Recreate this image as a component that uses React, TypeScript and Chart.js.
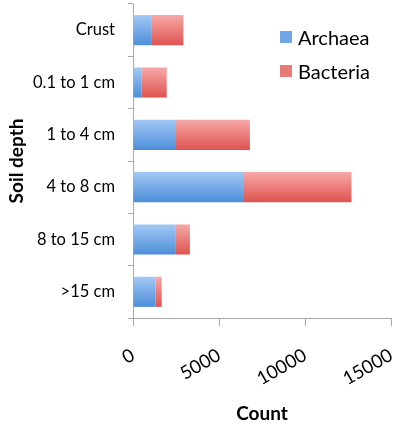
import { useEffect, useRef } from "react";
import { Chart, registerables } from "chart.js";

Chart.register(...registerables);

const depths = ["Crust", "0.1 to 1 cm", "1 to 4 cm", "4 to 8 cm", "8 to 15 cm", ">15 cm"];
const archaea = [1100, 480, 2500, 6400, 2450, 1300];
const bacteria = [1830, 1480, 4300, 6300, 860, 370];
const xTicks = [0, 5000, 10000, 15000];

const FONT = "Lato, 'Open Sans', sans-serif";
const BAR_PCT = 0.575;

// vertical gradient per bar, like the glossy office style
function barFill(top: string, bottom: string, flat: string) {
  return (ctx: any) => {
    const chart = ctx.chart;
    const y = chart.scales?.y;
    if (!y || ctx.dataIndex === undefined || !chart.chartArea) return flat;
    const c = y.getPixelForValue(ctx.dataIndex);
    const half = (y.height / depths.length) * BAR_PCT / 2;
    const g = chart.ctx.createLinearGradient(0, c - half, 0, c + half);
    g.addColorStop(0, top);
    g.addColorStop(1, bottom);
    return g;
  };
}

export default function App() {
  const canvasRef = useRef<HTMLCanvasElement>(null);

  useEffect(() => {
    if (!canvasRef.current) return;
    const chart = new Chart(canvasRef.current, {
      type: "bar",
      data: {
        labels: depths,
        datasets: [
          {
            label: "Archaea",
            data: archaea,
            backgroundColor: barFill("#a2c8f5", "#4d8ed9", "#6fa6e6"),
            borderWidth: 0,
          },
          {
            label: "Bacteria",
            data: bacteria,
            backgroundColor: barFill("#f6a9a7", "#de534f", "#ea7a78"),
            borderWidth: 0,
          },
        ],
      },
      options: {
        indexAxis: "y",
        animation: false,
        responsive: false,
        layout: { padding: { top: 4, right: 9, left: 0, bottom: 0 } },
        datasets: {
          bar: { categoryPercentage: 1, barPercentage: BAR_PCT },
        },
        plugins: {
          legend: { display: false },
          tooltip: { enabled: false },
        },
        scales: {
          x: {
            stacked: true,
            min: 0,
            max: 15000,
            afterFit: (s: any) => {
              s.height = 111;
              s.paddingLeft = 0;
              s.paddingRight = 0;
            },
            afterBuildTicks: (s: any) => {
              s.ticks = xTicks.map((v) => ({ value: v }));
            },
            border: { color: "#aaaaaa", width: 1 },
            grid: {
              drawOnChartArea: false,
              drawTicks: true,
              tickLength: 8,
              color: "#aaaaaa",
            },
            ticks: {
              minRotation: 30,
              maxRotation: 30,
              color: "#000",
              font: { family: FONT, size: 18.5 },
              padding: 18,
              callback: (v: any) => String(v),
            },
            title: {
              display: true,
              text: "Count",
              color: "#000",
              font: { family: FONT, size: 19, weight: "bold" },
              padding: { top: 0, bottom: 4 },
            },
          },
          y: {
            stacked: true,
            afterFit: (s: any) => {
              s.width = 133;
              s.paddingTop = 0;
              s.paddingBottom = 0;
            },
            border: { color: "#aaaaaa", width: 1 },
            grid: {
              drawOnChartArea: false,
              drawTicks: true,
              tickLength: 5,
              color: "#aaaaaa",
              offset: true,
            },
            ticks: {
              color: "#000",
              font: { family: FONT, size: 16.5 },
              padding: 13,
            },
            title: {
              display: true,
              text: "Soil depth",
              color: "#000",
              font: { family: FONT, size: 19, weight: "bold" },
              padding: { top: 5, bottom: 0 },
            },
          },
        },
      },
    });
    return () => chart.destroy();
  }, []);

  const legendItems = [
    { label: "Archaea", color: "#6fa6e6" },
    { label: "Bacteria", color: "#ea7a78" },
  ];

  return (
    <div style={{ position: "fixed", left: 0, top: 0, width: 400, height: 429, background: "#fff" }}>
      <canvas ref={canvasRef} width={400} height={429} />
      <div style={{ position: "absolute", left: 280, top: 20, fontFamily: FONT, fontSize: 20, color: "#000" }}>
        {legendItems.map((item) => (
          <div key={item.label} style={{ display: "flex", alignItems: "center", height: 34 }}>
            <span style={{ display: "inline-block", width: 12, height: 12, background: item.color, marginRight: 6 }} />
            {item.label}
          </div>
        ))}
      </div>
    </div>
  );
}
